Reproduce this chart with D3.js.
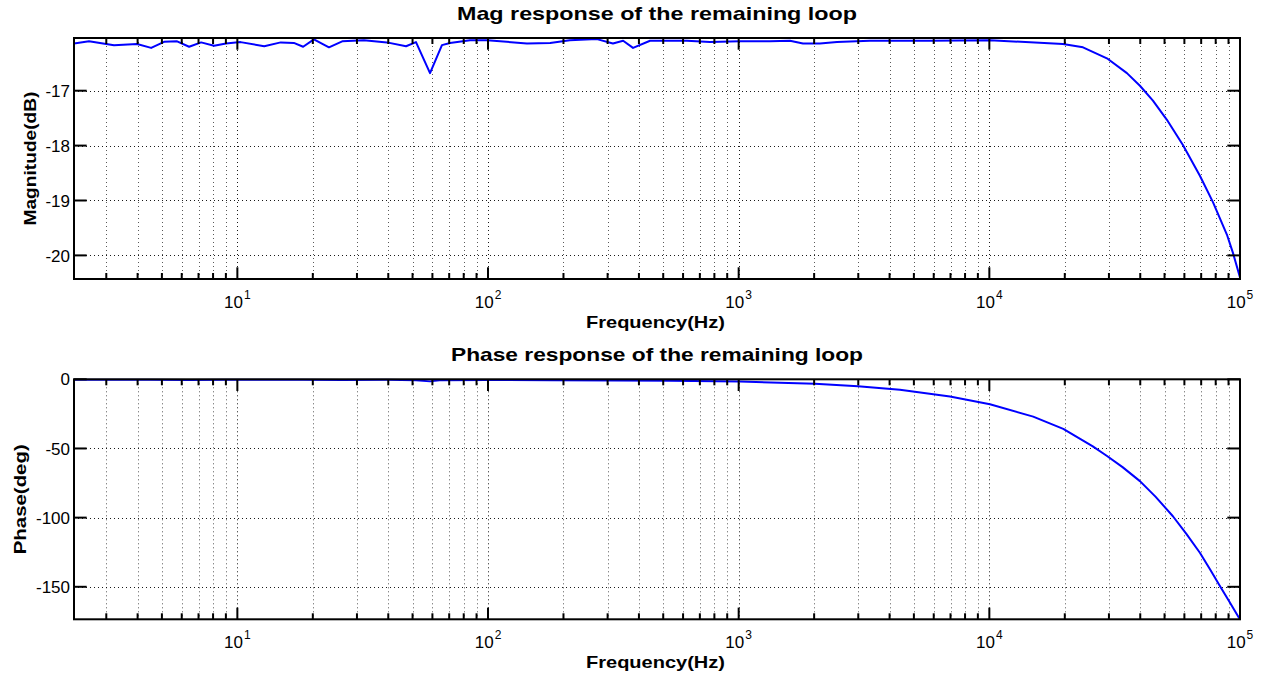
<!DOCTYPE html>
<html>
<head>
<meta charset="utf-8">
<script src="https://cdn.jsdelivr.net/npm/d3@7"></script>
<style>
  html, body { margin: 0; padding: 0; background: #fff; }
  svg { display: block; font-family: "Liberation Sans", Arial, Helvetica, sans-serif; }
</style>
</head>
<body>
<svg id="chart" width="1269" height="677"></svg>
<script>
// ---- Data ----
const magFreq = [2.23, 2.56, 3.22, 3.98, 4.53, 5.10, 5.75, 6.42, 7.17, 8.07, 9.01, 10.3, 12.8, 14.9, 16.8, 18.3, 20.2, 23.2, 26.2, 32.0, 39.5, 47.1, 51.6, 58.7, 65.5, 70.5, 84.8, 99.1, 143, 177, 212, 272, 315, 346, 379, 443, 532, 622, 768, 1012, 1333, 1602, 1805, 2110, 2467, 3340, 5797, 10056, 19660, 23630, 29450, 35390, 39880, 44940, 51100, 59190, 69180, 77990, 88650, 93670, 100000];
const magDb = [-16.14, -16.10, -16.17, -16.15, -16.22, -16.11, -16.10, -16.20, -16.12, -16.18, -16.14, -16.115, -16.19, -16.12, -16.13, -16.20, -16.065, -16.21, -16.10, -16.08, -16.12, -16.19, -16.115, -16.68, -16.17, -16.13, -16.08, -16.08, -16.14, -16.13, -16.08, -16.06, -16.14, -16.09, -16.22, -16.09, -16.09, -16.09, -16.115, -16.10, -16.10, -16.09, -16.14, -16.14, -16.115, -16.09, -16.09, -16.08, -16.15, -16.21, -16.41, -16.68, -16.91, -17.18, -17.53, -17.99, -18.55, -19.03, -19.62, -19.95, -20.40];

const phaseFreq = [2.23, 3.2, 4.5, 6.4, 9.0, 12.8, 18.3, 26.2, 39.5, 51.6, 58.7, 65.5, 99, 177, 315, 532, 1012, 2015, 2991, 4399, 6965, 10056, 14960, 19720, 25870, 29380, 34000, 39880, 46000, 53990, 61000, 69180, 76000, 83140, 91000, 98360, 100000];
const phaseDeg = [-0.3, -0.4, -0.3, -0.5, -0.3, -0.4, -0.3, -0.5, -0.4, -0.6, -1.5, -0.6, -0.5, -0.7, -0.8, -1.0, -1.6, -3.2, -5.0, -7.6, -12.5, -18.0, -27.0, -35.8, -48.5, -55.3, -63.5, -73.6, -84.8, -99.0, -111.6, -125.4, -137.5, -149.5, -161.2, -171.4, -173.5];

const xDomain = [2.23, 100000];
const xTickExps = [1, 2, 3, 4, 5];
const magDomain = [-20.43, -16.04];
const magTicks = [-20, -19, -18, -17];
const phaseDomain = [-173.5, 0];
const phaseTicks = [-150, -100, -50, 0];

const titles = ["Mag response of the remaining loop", "Phase response of the remaining loop"];
const yLabels = ["Magnitude(dB)", "Phase(deg)"];
const xLabel = "Frequency(Hz)";

// ---- Layout ----
const svg = d3.select("#chart");
const L = 74, R = 1240;
const panels = [
  { top: 38, bottom: 279, domain: magDomain, ticks: magTicks, fx: magFreq, fy: magDb, title: titles[0], ylabel: yLabels[0], ylabelX: 30, ylabelLen: 134, titleLen: 400 },
  { top: 379.3, bottom: 619.3, domain: phaseDomain, ticks: phaseTicks, fx: phaseFreq, fy: phaseDeg, title: titles[1], ylabel: yLabels[1], ylabelX: 20, ylabelLen: 110, titleLen: 412 }
];

const majorLen = 11.7, minorLen = 6;

// minor tick values (2..9 each decade) within domain
const minorVals = [];
for (let e = 0; e <= 4; e++) {
  for (let m = 2; m <= 9; m++) {
    const v = m * Math.pow(10, e);
    if (v > xDomain[0] && v < xDomain[1]) minorVals.push(v);
  }
}
const majorVals = xTickExps.map(e => Math.pow(10, e));

panels.forEach((p, i) => {
  const x = d3.scaleLog().domain(xDomain).range([L, R]);
  const y = d3.scaleLinear().domain(p.domain).range([p.bottom, p.top]);
  const g = svg.append("g");

  // Grid (dotted)
  const grid = g.append("g").attr("stroke", "#000").attr("stroke-width", 1)
    .attr("stroke-dasharray", "1,3").attr("fill", "none");
  minorVals.concat(majorVals).forEach(v => {
    const xx = Math.round(x(v)) + 0.5;
    grid.append("line").attr("x1", xx).attr("x2", xx).attr("y1", p.top).attr("y2", p.bottom)
      .attr("stroke-opacity", majorVals.includes(v) ? 0.9 : 0.65);
  });
  p.ticks.forEach(v => {
    const yy = Math.round(y(v)) + 0.5;
    grid.append("line").attr("x1", L).attr("x2", R).attr("y1", yy).attr("y2", yy).attr("stroke-opacity", 0.9);
  });

  // clip
  const clipId = "clip" + i;
  svg.append("clipPath").attr("id", clipId).append("rect")
    .attr("x", L).attr("y", p.top - 1).attr("width", R - L).attr("height", p.bottom - p.top + 2);

  // Data line
  const line = d3.line().x(d => x(d[0])).y(d => y(d[1])).curve(d3.curveLinear);
  g.append("path").datum(p.fx.map((f, k) => [f, p.fy[k]]))
    .attr("clip-path", `url(#${clipId})`)
    .attr("d", line).attr("fill", "none").attr("stroke", "#0000ff").attr("stroke-width", 2)
    .attr("stroke-linejoin", "round");

  // Ticks
  const tk = g.append("g").attr("stroke", "#000").attr("stroke-width", 2);
  majorVals.concat(minorVals).forEach(v => {
    const xx = x(v);
    const len = majorVals.includes(v) ? majorLen : minorLen;
    tk.append("line").attr("x1", xx).attr("x2", xx).attr("y1", p.bottom).attr("y2", p.bottom - len);
    tk.append("line").attr("x1", xx).attr("x2", xx).attr("y1", p.top).attr("y2", p.top + len);
  });
  p.ticks.forEach(v => {
    const yy = y(v);
    tk.append("line").attr("x1", L).attr("x2", L + majorLen + 1).attr("y1", yy).attr("y2", yy);
    tk.append("line").attr("x1", R).attr("x2", R - majorLen - 1).attr("y1", yy).attr("y2", yy);
  });

  // Box
  g.append("rect").attr("x", L).attr("y", p.top).attr("width", R - L).attr("height", p.bottom - p.top)
    .attr("fill", "none").attr("stroke", "#000").attr("stroke-width", 2);

  // Y tick labels
  p.ticks.forEach(v => {
    g.append("text").attr("x", 70).attr("y", y(v)).attr("dy", "0.36em")
      .attr("text-anchor", "end").attr("font-size", 17).attr("fill", "#000")
      .text(String(v));
  });

  // X tick labels 10^n
  xTickExps.forEach(e => {
    const t = g.append("text").attr("x", x(Math.pow(10, e))).attr("y", p.bottom + 28.5)
      .attr("text-anchor", "middle").attr("font-size", 17).attr("fill", "#000");
    t.append("tspan").text("10");
    t.append("tspan").attr("font-size", 12).attr("dy", -9).attr("dx", 1).text(String(e));
  });

  // Title
  g.append("text").attr("x", (L + R) / 2).attr("y", p.top - 18)
    .attr("text-anchor", "middle").attr("font-size", 18.5).attr("font-weight", "bold")
    .attr("textLength", p.titleLen).attr("lengthAdjust", "spacingAndGlyphs")
    .text(p.title);

  // X label
  g.append("text").attr("x", (L + R) / 2 - 1.5).attr("y", p.bottom + 49)
    .attr("text-anchor", "middle").attr("font-size", 16.5).attr("font-weight", "bold")
    .attr("textLength", 139).attr("lengthAdjust", "spacingAndGlyphs")
    .text(xLabel);

  // Y label
  const cy = (p.top + p.bottom) / 2;
  g.append("text").attr("transform", `translate(${p.ylabelX + 6},${cy}) rotate(-90)`)
    .attr("text-anchor", "middle").attr("font-size", 16.5).attr("font-weight", "bold")
    .attr("textLength", p.ylabelLen).attr("lengthAdjust", "spacingAndGlyphs")
    .text(p.ylabel);
});
</script>
</body>
</html>
